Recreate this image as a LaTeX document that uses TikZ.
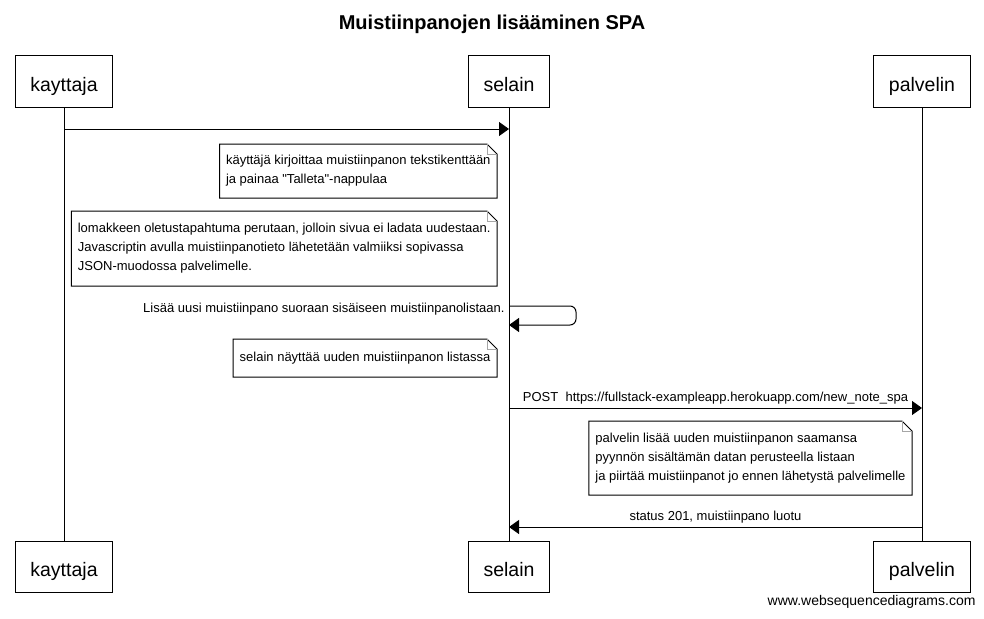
\documentclass[tikz,border=0pt]{standalone}
\usepackage{fontspec}
\setmainfont{Liberation Sans}[Ligatures=TeXOff]
\usetikzlibrary{arrows.meta}

\begin{document}
\begin{tikzpicture}[x=1pt, y=-1pt, line width=1pt,
    actor/.style={draw, rectangle, minimum height=51pt, inner xsep=15pt, text height=20pt, text depth=1pt, font=\fontsize{19.5}{23}\selectfont},
    note/.style={anchor=north east, align=left, inner xsep=6pt, inner ysep=0pt, font=\fontsize{13}{19}\selectfont,
      append after command={\pgfextra{
        \draw (\tikzlastnode.north west) -- ([xshift=-10pt]\tikzlastnode.north east)
          -- ([yshift=-10pt]\tikzlastnode.north east) -- (\tikzlastnode.south east)
          -- (\tikzlastnode.south west) -- cycle;
        \draw[gray!70] ([xshift=-10pt]\tikzlastnode.north east) |- ([yshift=-10pt]\tikzlastnode.north east);}}},
    msg/.style={-{Triangle[length=10pt, width=14pt]}},
    lbl/.style={font=\fontsize{13}{15}\selectfont, inner sep=0pt}]
    \useasboundingbox (0,0) rectangle (984,618);

    \node[font=\bfseries\fontsize{20}{24}\selectfont] (title) at (492,24) {Muistiinpanojen lisääminen SPA};

    \foreach \n/\x/\t in {k/64/kayttaja, s/509/selain, p/922/palvelin} {
      \node[actor] (top-\n) at (\x,81.5) {\t};
      \node[actor] (bot-\n) at (\x,566.5) {\t};
      \draw (top-\n) -- (bot-\n);
    }

    % viestien paat elamanviivoilla
    \coordinate (k1) at (top-k.south |- 0,129);
    \coordinate (s1) at (top-s.south |- 0,129);
    \coordinate (s2) at (top-s.south |- 0,306);
    \coordinate (s3) at (top-s.south |- 0,325);
    \coordinate (s4) at (top-s.south |- 0,408);
    \coordinate (p4) at (top-p.south |- 0,408);
    \coordinate (s5) at (top-s.south |- 0,527);
    \coordinate (p5) at (top-p.south |- 0,527);

    \draw[msg] (k1) -- (s1);

    \node[note, minimum height=53pt] (n1) at (497,144)
      {käyttäjä kirjoittaa muistiinpanon tekstikenttään\\ja painaa "Talleta"-nappulaa};
    \node[note, minimum height=74pt] (n2) at (497,211)
      {lomakkeen oletustapahtuma perutaan, jolloin sivua ei ladata uudestaan.\\Javascriptin avulla muistiinpanotieto lähetetään valmiiksi sopivassa\\JSON-muodossa palvelimelle.};

    \draw[msg, rounded corners=6pt] (s2) -- ++(67,0) -- ++(0,19) -- (s3);
    \node[lbl, anchor=east] (l2) at (505,309) {Lisää uusi muistiinpano suoraan sisäiseen muistiinpanolistaan.};

    \node[note, minimum height=37pt] (n3) at (497,339)
      {selain näyttää uuden muistiinpanon listassa};

    \draw[msg] (s4) -- node[lbl, above=3pt] {POST~~https://fullstack-exampleapp.herokuapp.com/new\_note\_spa} (p4);

    \node[note, minimum height=73pt] (n4) at (912,421)
      {palvelin lisää uuden muistiinpanon saamansa\\pyynnön sisältämän datan perusteella listaan\\ja piirtää muistiinpanot jo ennen lähetystä palvelimelle};

    \draw[msg] (p5) -- node[lbl, above=3pt] {status 201, muistiinpano luotu} (s5);

    \node[lbl, anchor=east, font=\fontsize{14}{16}\selectfont] (footer) at (976,602) {www.websequencediagrams.com};
  \end{tikzpicture}
\end{document}
